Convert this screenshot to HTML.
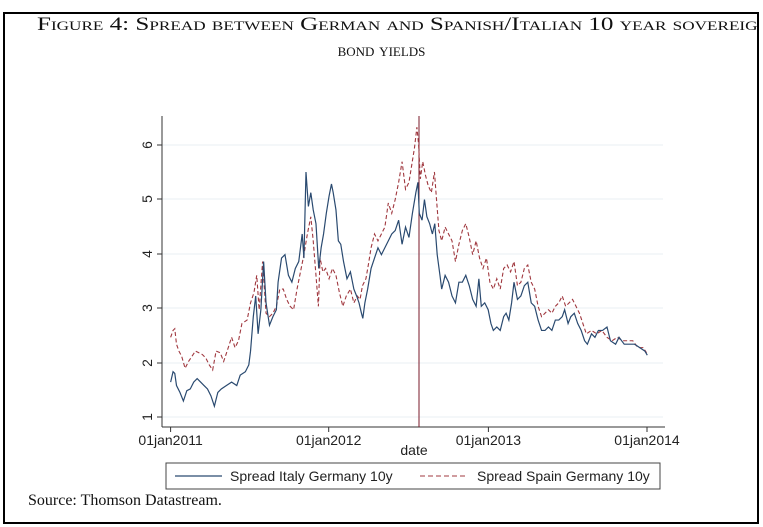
<!DOCTYPE html>
<html><head><meta charset="utf-8"><style>
html,body{margin:0;padding:0;background:#fff;}
body{width:763px;height:527px;position:relative;overflow:hidden;}
.frame{position:absolute;left:3px;top:12px;width:753px;height:508px;border:2px solid #000;border-right:none;overflow:hidden;}
.frameR{position:absolute;left:757px;top:12px;width:2px;height:512px;background:#000;}
.t1{position:absolute;left:37px;top:14px;white-space:nowrap;font-family:"Liberation Serif",serif;font-size:19px;font-variant:small-caps;color:#111;transform-origin:0 0;transform:scaleX(1.32);}
.t2{position:absolute;left:0;width:763px;top:40px;text-align:center;font-family:"Liberation Serif",serif;font-size:19px;font-variant:small-caps;color:#111;}
.src{position:absolute;left:28px;top:492px;font-family:"Liberation Serif",serif;font-size:16px;color:#111;}
svg{position:absolute;left:0;top:0;}
</style></head><body>
<div class="frame"></div><div class="frameR"></div>
<div class="t1">Figure 4: Spread between German and Spanish/Italian 10 year sovereig</div>
<div class="t2">bond yields</div>
<svg width="763" height="527" font-family="Liberation Sans, sans-serif" font-size="14">
<g stroke="#e8eff3" stroke-width="1">
<line x1="162" x2="663" y1="145" y2="145"/><line x1="162" x2="663" y1="199" y2="199"/>
<line x1="162" x2="663" y1="254" y2="254"/><line x1="162" x2="663" y1="308" y2="308"/>
<line x1="162" x2="663" y1="363" y2="363"/><line x1="162" x2="663" y1="417" y2="417"/>
</g>
<g stroke="#333" stroke-width="1">
<line x1="162" x2="162" y1="116" y2="427"/><line x1="162" x2="665" y1="427" y2="427"/>
<line x1="157" x2="162" y1="145" y2="145"/><line x1="157" x2="162" y1="199" y2="199"/>
<line x1="157" x2="162" y1="254" y2="254"/><line x1="157" x2="162" y1="308" y2="308"/>
<line x1="157" x2="162" y1="363" y2="363"/><line x1="157" x2="162" y1="417" y2="417"/>
<line x1="170.6" x2="170.6" y1="427" y2="432"/><line x1="328.7" x2="328.7" y1="427" y2="432"/>
<line x1="488.4" x2="488.4" y1="427" y2="432"/><line x1="647" x2="647" y1="427" y2="432"/>
</g>
<g fill="#222" text-anchor="middle">
<text transform="translate(152,145) rotate(-90)">6</text>
<text transform="translate(152,199) rotate(-90)">5</text>
<text transform="translate(152,254) rotate(-90)">4</text>
<text transform="translate(152,308) rotate(-90)">3</text>
<text transform="translate(152,363) rotate(-90)">2</text>
<text transform="translate(152,417) rotate(-90)">1</text>
<text x="170.6" y="445">01jan2011</text><text x="328.7" y="445">01jan2012</text>
<text x="488.4" y="445">01jan2013</text><text x="647" y="445">01jan2014</text>
<text x="414" y="455">date</text>
</g>
<line x1="419" x2="419" y1="116" y2="427" stroke="#7a1a2a" stroke-width="1"/>
<g transform="translate(130,110) scale(0.3444)" fill="none">
<polyline vector-effect="non-scaling-stroke" stroke="#a0383f" stroke-width="1.1" stroke-dasharray="4,2.5" points="118,660 125,640 130,635 135,680 142,700 150,715 160,750 170,730 180,715 190,700 200,705 210,710 220,720 230,740 240,755 250,700 262,705 272,730 282,700 295,660 305,690 315,670 325,620 340,610 350,560 360,530 368,480 375,580 385,440 395,590 405,600 415,590 425,570 435,520 445,520 455,550 465,570 475,580 485,520 495,470 505,420 515,360 525,310 532,380 540,480 547,570 552,430 560,470 568,460 578,490 588,460 598,480 608,530 618,570 628,540 640,520 650,560 660,540 668,550 675,510 685,490 692,450 700,400 710,360 720,380 730,360 740,340 750,270 760,300 770,260 780,210 790,150 800,230 810,210 818,160 826,110 833,50 838,100 843,200 850,150 858,190 866,220 875,240 884,180 890,260 897,350 905,380 915,340 925,360 935,380 945,440 955,390 965,350 975,330 985,370 995,420 1005,380 1015,430 1025,460 1035,430 1045,500 1055,520 1065,490 1075,520 1085,460 1095,450 1105,470 1115,440 1125,510 1135,500 1145,460 1155,450 1165,500 1175,520 1185,570 1195,600 1205,590 1215,580 1225,590 1235,570 1245,560 1255,540 1265,570 1275,560 1285,550 1295,570 1305,590 1315,620 1325,650 1340,640 1355,650 1370,640 1385,660 1400,670 1415,660 1430,670 1445,670 1460,670 1475,690 1490,690 1500,705"/>
<polyline vector-effect="non-scaling-stroke" stroke="#2a4a70" stroke-width="1.2" points="118,790 125,760 130,765 135,800 145,820 155,845 165,815 175,810 185,790 195,780 205,790 215,800 225,810 235,830 245,860 255,820 265,810 280,800 295,790 310,800 320,770 335,760 345,740 350,700 358,600 365,540 372,650 380,580 388,440 395,560 405,625 415,600 425,580 430,500 440,430 450,420 460,480 470,500 480,460 490,440 500,360 505,430 511,180 518,280 525,240 532,290 540,330 548,460 555,400 562,360 570,300 578,250 585,215 590,240 598,290 605,380 612,390 620,440 630,490 640,470 650,520 658,540 665,560 672,590 676,605 682,560 690,520 700,460 710,430 720,400 730,420 740,400 750,380 760,360 770,350 780,320 790,390 800,340 810,370 820,300 830,240 836,210 840,300 848,320 855,260 862,310 870,330 878,360 885,330 892,420 900,480 905,520 915,480 925,500 935,540 945,560 955,500 965,500 975,480 985,510 995,550 1005,570 1013,490 1020,570 1030,560 1040,580 1048,620 1055,640 1065,630 1075,640 1085,600 1092,590 1100,610 1108,560 1115,500 1125,550 1135,540 1145,510 1155,500 1165,560 1175,570 1185,610 1195,640 1205,640 1215,630 1225,640 1235,610 1245,610 1255,600 1262,580 1272,620 1280,600 1290,590 1300,620 1310,640 1320,670 1328,680 1340,650 1350,660 1360,640 1372,640 1385,630 1395,670 1410,680 1420,660 1435,680 1450,680 1465,680 1480,690 1495,700 1502,712"/>
</g>
<rect x="166" y="463" width="494" height="26" fill="#fff" stroke="#444" stroke-width="1"/>
<line x1="175" x2="222" y1="476" y2="476" stroke="#2a4a70" stroke-width="1.2"/>
<line x1="420" x2="468" y1="476" y2="476" stroke="#a0383f" stroke-width="1.1" stroke-dasharray="5,3"/>
<g fill="#222"><text x="230" y="481">Spread Italy Germany 10y</text><text x="477" y="481">Spread Spain Germany 10y</text></g>
</svg>
<div class="src">Source: Thomson Datastream.</div>
</body></html>
